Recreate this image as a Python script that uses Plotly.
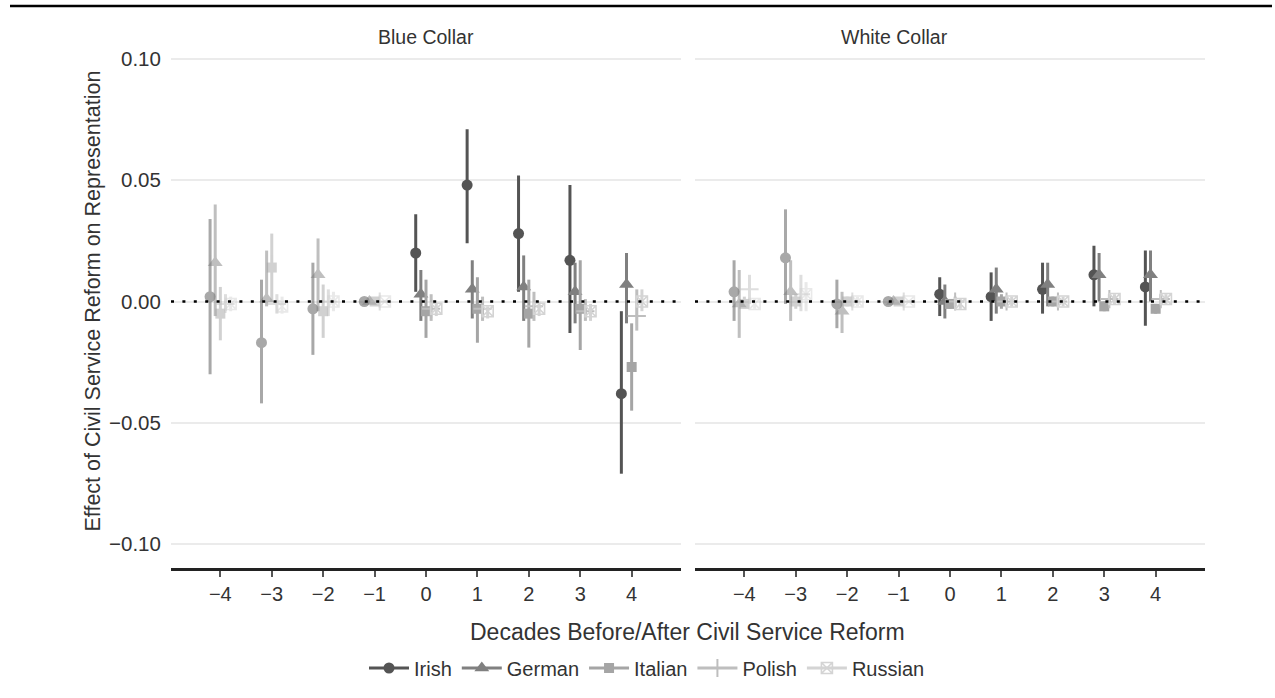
import plotly.graph_objects as go

# ---------------- data ----------------
decades = [-4, -3, -2, -1, 0, 1, 2, 3, 4]
tick_labels = ["\u22124", "\u22123", "\u22122", "\u22121", "0", "1", "2", "3", "4"]
series = ["Irish", "German", "Italian", "Polish", "Russian"]
panels = ["Blue Collar", "White Collar"]

# Blue Collar
blue_irish_est = [0.002, -0.017, -0.003, 0, 0.020, 0.048, 0.028, 0.017, -0.038]
blue_irish_lo = [-0.030, -0.042, -0.022, 0, 0.004, 0.024, 0.004, -0.013, -0.071]
blue_irish_hi = [0.034, 0.009, 0.016, 0, 0.036, 0.071, 0.052, 0.048, -0.004]

blue_german_est = [0.016, 0.001, 0.011, 0, 0.003, 0.005, 0.006, 0.004, 0.007]
blue_german_lo = [-0.006, -0.002, -0.004, 0, -0.008, -0.007, -0.008, -0.009, -0.009]
blue_german_hi = [0.040, 0.021, 0.026, 0, 0.013, 0.017, 0.019, 0.016, 0.020]

blue_italian_est = [-0.005, 0.014, -0.004, 0, -0.004, -0.003, -0.005, -0.003, -0.027]
blue_italian_lo = [-0.016, 0.000, -0.015, 0, -0.015, -0.017, -0.019, -0.020, -0.045]
blue_italian_hi = [0.006, 0.028, 0.007, 0, 0.009, 0.010, 0.009, 0.017, -0.009]

blue_polish_est = [-0.001, -0.001, 0.000, 0, -0.003, -0.003, -0.002, -0.004, -0.006]
blue_polish_lo = [-0.004, -0.005, -0.006, 0, -0.008, -0.008, -0.008, -0.008, -0.012]
blue_polish_hi = [0.003, 0.003, 0.005, 0, 0.003, 0.002, 0.004, 0.001, 0.005]

blue_russian_est = [-0.001, -0.002, 0.000, 0, -0.003, -0.004, -0.003, -0.004, 0.000]
blue_russian_lo = [-0.004, -0.005, -0.004, 0, -0.006, -0.007, -0.006, -0.008, -0.004]
blue_russian_hi = [0.002, 0.002, 0.004, 0, -0.001, -0.002, 0.000, -0.001, 0.005]

# White Collar
white_irish_est = [0.004, 0.018, -0.001, 0, 0.003, 0.002, 0.005, 0.011, 0.006]
white_irish_lo = [-0.008, -0.001, -0.011, 0, -0.006, -0.008, -0.005, -0.002, -0.010]
white_irish_hi = [0.017, 0.038, 0.009, 0, 0.010, 0.012, 0.016, 0.023, 0.021]

white_german_est = [-0.001, 0.004, -0.004, 0, 0.000, 0.005, 0.007, 0.011, 0.011]
white_german_lo = [-0.015, -0.008, -0.013, 0, -0.007, -0.005, -0.002, 0.000, 0.000]
white_german_hi = [0.013, 0.017, 0.004, 0, 0.007, 0.014, 0.016, 0.020, 0.021]

white_italian_est = [-0.001, 0.000, 0.000, 0, -0.001, 0.000, 0.000, -0.002, -0.003]
white_italian_lo = [-0.003, -0.003, -0.002, 0, -0.003, -0.003, -0.002, -0.004, -0.005]
white_italian_hi = [0.002, 0.003, 0.002, 0, 0.001, 0.003, 0.002, 0.000, -0.001]

white_polish_est = [0.005, 0.003, 0.000, 0, 0.000, 0.000, 0.000, 0.001, 0.001]
white_polish_lo = [-0.001, -0.004, -0.002, 0, -0.002, -0.002, -0.002, -0.001, -0.001]
white_polish_hi = [0.011, 0.011, 0.002, 0, 0.002, 0.002, 0.002, 0.003, 0.003]

white_russian_est = [-0.001, 0.003, 0.000, 0, -0.001, 0.000, 0.000, 0.001, 0.001]
white_russian_lo = [-0.003, -0.004, -0.002, 0, -0.003, -0.002, -0.002, -0.001, -0.001]
white_russian_hi = [0.001, 0.008, 0.002, 0, 0.001, 0.002, 0.002, 0.003, 0.003]

data = {
    "Blue Collar": {
        "Irish": (blue_irish_est, blue_irish_lo, blue_irish_hi),
        "German": (blue_german_est, blue_german_lo, blue_german_hi),
        "Italian": (blue_italian_est, blue_italian_lo, blue_italian_hi),
        "Polish": (blue_polish_est, blue_polish_lo, blue_polish_hi),
        "Russian": (blue_russian_est, blue_russian_lo, blue_russian_hi),
    },
    "White Collar": {
        "Irish": (white_irish_est, white_irish_lo, white_irish_hi),
        "German": (white_german_est, white_german_lo, white_german_hi),
        "Italian": (white_italian_est, white_italian_lo, white_italian_hi),
        "Polish": (white_polish_est, white_polish_lo, white_polish_hi),
        "Russian": (white_russian_est, white_russian_lo, white_russian_hi),
    },
}

# ---------------- styles ----------------
colors = {"Irish": "#545454", "German": "#808080", "Italian": "#a5a5a5",
          "Polish": "#bebebe", "Russian": "#d4d4d4"}
symbols = {"Irish": "circle", "German": "triangle-up", "Italian": "square",
           "Polish": "cross-thin-open", "Russian": "square-x-open"}
sizes = {"Irish": 11, "German": 13, "Italian": 10, "Polish": 13, "Russian": 11}
line_w = {"Irish": 0, "German": 0, "Italian": 0, "Polish": 2, "Russian": 1.6}
offsets = {s: (i - 2) * 0.1 for i, s in enumerate(series)}

FONT = "Liberation Sans, Arial, Helvetica, sans-serif"
TXT = "#333333"
W, H = 1275, 698
xr = [-4.96, 4.96]
yr = [-0.11, 0.11]

fig = go.Figure()

axes = [("x", "y"), ("x2", "y2")]
for (xa, ya), panel in zip(axes, panels):
    for s in series:
        est, lo, hi = data[panel][s]
        for pre in (True, False):
            idx = [i for i, d in enumerate(decades) if (d < 0) == pre]
            xs = [decades[i] + offsets[s] for i in idx]
            ys = [est[i] for i in idx]
            up = [hi[i] - est[i] for i in idx]
            dn = [est[i] - lo[i] for i in idx]
            fig.add_trace(go.Scatter(
                x=xs, y=ys, mode="markers", xaxis=xa, yaxis=ya,
                showlegend=False, opacity=0.5 if pre else 1.0,
                marker=dict(symbol=symbols[s], size=sizes[s], color=colors[s],
                            line=dict(width=line_w[s], color=colors[s])),
                error_y=dict(type="data", symmetric=False, array=up, arrayminus=dn,
                             thickness=3, width=0, color=colors[s]),
                hoverinfo="skip",
            ))

# legend entries
for s in series:
    fig.add_trace(go.Scatter(
        x=[None], y=[None], mode="lines+markers", name=s,
        line=dict(color=colors[s], width=3),
        marker=dict(symbol=symbols[s], size=sizes[s], color=colors[s],
                    line=dict(width=line_w[s], color=colors[s])),
    ))

px_top, px_bot = 34.7, 568.3
ydom = [1 - px_bot / H, 1 - px_top / H]
xdom1 = [171 / W, 681 / W]
xdom2 = [695 / W, 1205 / W]

xaxis_common = dict(range=xr, tickvals=decades, ticktext=tick_labels,
                    showgrid=False, zeroline=False, showline=True,
                    linecolor="#222222", linewidth=2.5, ticks="outside",
                    ticklen=6, tickwidth=2, tickcolor="#555555",
                    tickfont=dict(family=FONT, size=20, color=TXT),
                    fixedrange=True)
yaxis_common = dict(range=yr, tickvals=[-0.1, -0.05, 0, 0.05, 0.1],
                    showgrid=True, gridcolor="#ebebeb", gridwidth=2,
                    zeroline=False, showline=False, fixedrange=True)

fig.update_layout(
    width=W, height=H,
    margin=dict(l=0, r=0, t=0, b=0),
    paper_bgcolor="white", plot_bgcolor="white",
    font=dict(family=FONT, color=TXT),
    xaxis=dict(domain=xdom1, anchor="y", **xaxis_common),
    xaxis2=dict(domain=xdom2, anchor="y2", **xaxis_common),
    yaxis=dict(domain=ydom, anchor="x",
               ticktext=["\u22120.10", "\u22120.05", "0.00", "0.05", "0.10"],
               ticks="outside", ticklen=5, tickcolor="rgba(0,0,0,0)",
               tickfont=dict(family=FONT, size=20.5, color=TXT),
               **yaxis_common),
    yaxis2=dict(domain=ydom, anchor="x2", showticklabels=False, ticks="",
                **yaxis_common),
    legend=dict(orientation="h", x=647 / W, xanchor="center",
                y=1 - 668 / H, yanchor="middle", itemwidth=40,
                font=dict(family=FONT, size=20, color=TXT),
                bgcolor="rgba(0,0,0,0)", itemclick=False),
    showlegend=True,
)

# dotted zero lines
for xa, ya in [("x", "y"), ("x2", "y2")]:
    fig.add_shape(type="line", xref=xa, yref=ya, x0=xr[0], x1=xr[1], y0=0, y1=0,
                  line=dict(color="black", width=2.6, dash="3px,8.4px"),
                  layer="above")

# top rule
fig.add_shape(type="line", xref="paper", yref="paper",
              x0=10 / W, x1=1272 / W, y0=1 - 6 / H, y1=1 - 6 / H,
              line=dict(color="black", width=2.5))

ann = []
ann.append(dict(text="Blue Collar", x=(xdom1[0] + xdom1[1]) / 2, y=1 - 37 / H,
                xref="paper", yref="paper", showarrow=False,
                font=dict(family=FONT, size=19.5, color=TXT), yanchor="middle"))
ann.append(dict(text="White Collar", x=(xdom2[0] + xdom2[1]) / 2, y=1 - 37 / H,
                xref="paper", yref="paper", showarrow=False,
                font=dict(family=FONT, size=19.5, color=TXT), yanchor="middle"))
ann.append(dict(text="Decades Before/After Civil Service Reform",
                x=(xdom1[0] + xdom2[1]) / 2, y=1 - 632 / H,
                xref="paper", yref="paper", showarrow=False, yanchor="middle",
                font=dict(family=FONT, size=23, color=TXT)))
ann.append(dict(text="Effect of Civil Service Reform on Representation",
                x=92 / W, y=1 - 301.5 / H, xref="paper", yref="paper",
                showarrow=False, textangle=-90, xanchor="center", yanchor="middle",
                font=dict(family=FONT, size=21.5, color=TXT)))
fig.update_layout(annotations=ann)

fig.write_html("out.html")
